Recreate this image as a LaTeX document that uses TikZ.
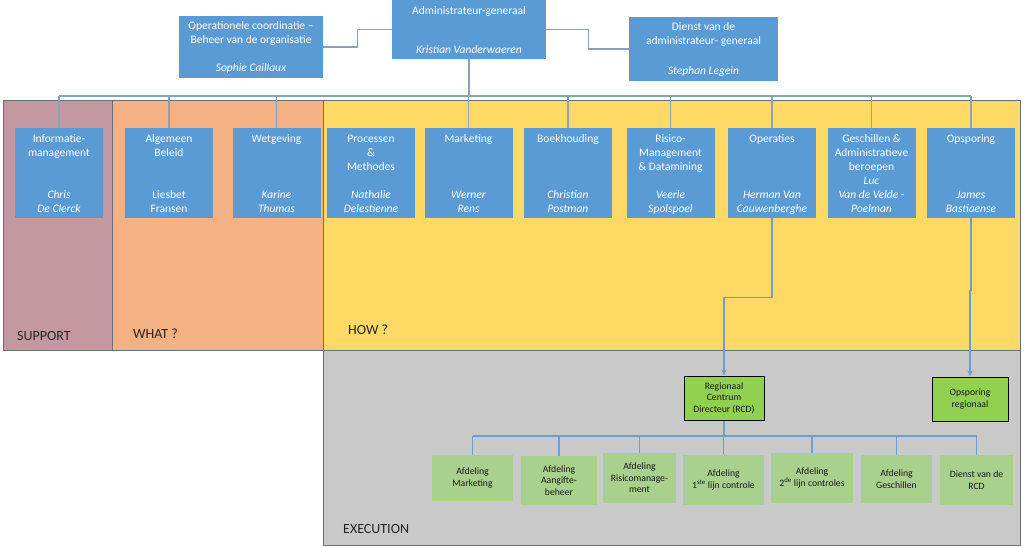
\documentclass[tikz,border=0pt]{standalone}
\usepackage{fontspec}
\setmainfont{Carlito}
\usetikzlibrary{arrows.meta}
\definecolor{cblauw}{RGB}{91,155,213}
\definecolor{cmauve}{RGB}{196,152,160}
\definecolor{coranje}{RGB}{244,177,131}
\definecolor{cgeel}{RGB}{255,217,102}
\definecolor{cgrijs}{RGB}{201,201,201}
\definecolor{cgroen}{RGB}{146,208,80}
\definecolor{clgroen}{RGB}{169,209,142}
\definecolor{clijn}{RGB}{140,160,182}
\definecolor{cpijl}{RGB}{108,158,210}
\definecolor{crand}{RGB}{105,112,122}

\begin{document}
\begin{tikzpicture}[x=1pt, y=-1pt, >=Stealth,
  bluebox/.style={rectangle, fill=cblauw, inner sep=0pt, minimum width=88pt, minimum height=90pt},
  boxttl/.style={anchor=north, align=center, inner sep=0pt, text=white, font=\fontsize{11.5}{14}\selectfont},
  boxwho/.style={boxttl, anchor=south, font=\fontsize{11.5}{14}\selectfont\itshape},
  greenbox/.style={rectangle, fill=clgroen, inner sep=0pt, align=center, text=black!90, font=\fontsize{9.7}{11.5}\selectfont},
  rcdbox/.style={greenbox, fill=cgroen, draw=black, line width=1pt},
  conn/.style={draw=clijn, line width=1.3pt},
  pijl/.style={draw=cpijl, line width=1.3pt, -{Stealth[length=6pt,width=5pt]}},
  band/.style={draw=crand, line width=1pt},
  bandlabel/.style={anchor=west, inner sep=0pt, text=black!85, font=\fontsize{14}{16}\selectfont}]
\useasboundingbox (0,0) rectangle (1024,548);

% zones
\draw[band, fill=cmauve] (3,101) rectangle (112,350);
\draw[band, fill=coranje] (112,101) rectangle (323,350);
\draw[band, fill=cgeel] (323,101) rectangle (1020,350);
\draw[band, fill=cgrijs] (323,350) rectangle (1020,545);
\node[bandlabel] (lsup) at (17,336) {SUPPORT};
\node[bandlabel] (lwhat) at (133,334) {WHAT ?};
\node[bandlabel] (lhow) at (348,330) {HOW ?};
\node[bandlabel] (lexec) at (343,529) {EXECUTION};

% top level
\node[bluebox, minimum width=154pt, minimum height=59pt] (ag) at (469,29.5) {};
\node[boxttl] (ag-t) at ([yshift=-5pt]ag.north) {\strut Administrateur-generaal};
\node[boxwho] (ag-w) at ([yshift=1pt]ag.south) {Kristian Vanderwaeren\strut};
\node[bluebox, minimum width=144pt, minimum height=62pt] (opc) at (251,47) {};
\node[boxttl] (opc-t) at ([yshift=-4pt]opc.north) {\strut Operationele coordinatie --\\Beheer van de organisatie};
\node[boxwho] (opc-w) at ([yshift=2pt]opc.south) {Sophie Caillaux\strut};
\node[bluebox, minimum width=149pt, minimum height=64pt] (dva) at (703.5,49) {};
\node[boxttl] (dva-t) at ([yshift=-4pt]dva.north) {\strut Dienst van de\\administrateur- generaal};
\node[boxwho] (dva-w) at ([yshift=2pt]dva.south) {Stephan Legein\strut};
\draw[conn] (ag.west) -- ++(-34,0) |- (opc.east);
\draw[conn] (ag.east) -- ++(42,0) |- (dva.west);

% diensten
\foreach \n/\x/\ttl/\who in {info/59/{Informatie-\\management}/{Chris\\De Clerck},
    alg/169/{Algemeen\\Beleid}/{\upshape Liesbet\\\upshape Fransen},
    wet/276.5/{Wetgeving}/{Karine\\Thumas},
    proc/371/{Processen\\\&\\Methodes}/{Nathalie\\Delestienne},
    mark/468.5/{Marketing}/{Werner\\Rens},
    boek/568/{Boekhouding}/{Christian\\Postman},
    risico/670.5/{Risico-\\Management\\\& Datamining}/{Veerle\\Spolspoel},
    oper/772/{Operaties}/{Herman Van\\Cauwenberghe},
    gesch/871.5/{Geschillen \&\\Administratieve\\beroepen\\\textit{Luc}}/{Van de Velde -\\Poelman},
    opsp/971/{Opsporing}/{James\\Bastiaense}}
{
  \node[bluebox] (\n) at (\x,173) {};
  \node[boxttl] (\n-t) at ([yshift=-5pt]\n.north) {\strut\ttl};
  \node[boxwho] (\n-w) at ([yshift=1pt]\n.south) {\who\strut};
}
\coordinate (bus) at (469,96);
\draw[conn] (ag.south) -- (bus);
\draw[conn] (info.north |- bus) -- (opsp.north |- bus);
\foreach \n in {info,alg,wet,mark,boek,risico,oper,gesch,opsp}
  \draw[conn] (\n.north |- bus) -- (\n.north);

% uitvoering
\node[rcdbox, minimum width=80pt, minimum height=44pt] (rcd) at (724,398) {Regionaal\\Centrum\\Directeur (RCD)};
\node[rcdbox, minimum width=76pt, minimum height=44pt] (opreg) at (970,399) {Opsporing\\regionaal};
\draw[pijl] (oper.south) -- ++(0,79) -| (rcd.north);
\draw[pijl] (opsp.south) -- ++(0,72) -| (opreg.north);

\foreach \n/\x/\y/\w/\h/\txt in {am/472.5/478/81/46/{Afdeling\\Marketing},
    aa/559/480.5/76/49/{Afdeling\\Aangifte-\\beheer},
    ar/639.5/478/73/50/{Afdeling\\Risicomanage-\\ment},
    a1/723.5/480/81/50/{Afdeling\\1\textsuperscript{ste} lijn controle},
    a2/812/478/82/50/{Afdeling\\2\textsuperscript{de} lijn controles},
    ag2/896.5/479/71/48/{Afdeling\\Geschillen},
    drcd/976.5/480/73/50/{Dienst van de\\RCD}}
  \node[greenbox, minimum width=\w pt, minimum height=\h pt] (\n) at (\x,\y) {\txt};
\coordinate (rbus) at (724,436);
\draw[conn, draw=cpijl] (rcd.south) -- (rbus);
\draw[conn, draw=cpijl] (am.north |- rbus) -- (drcd.north |- rbus);
\foreach \n in {am,aa,ar,a1,a2,ag2,drcd}
  \draw[conn, draw=cpijl] (\n.north |- rbus) -- (\n.north);
\end{tikzpicture}
\end{document}
